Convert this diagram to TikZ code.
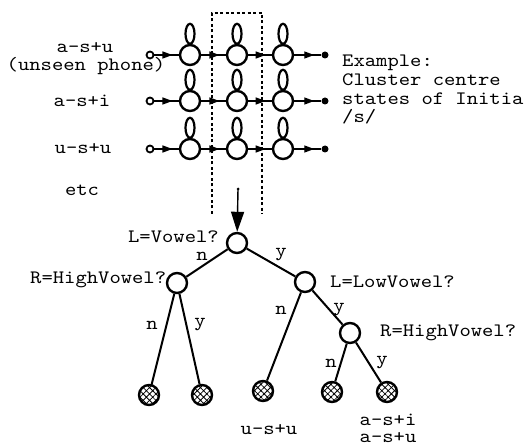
\documentclass[tikz,border=0pt]{standalone}
\usepackage{fontspec}
\setmonofont[FakeStretch=1.14]{lmmono10-regular.otf}
\usetikzlibrary{arrows.meta,decorations.markings,patterns.meta}

\begin{document}
\begin{tikzpicture}[x=1bp,y=-1bp,font=\ttfamily\fontsize{19}{19}\selectfont,
    state/.style={circle,draw,line width=2.4bp,fill=white,minimum size=20bp,inner sep=0pt},
    leaf/.style={state,pattern={Hatch[angle=45,distance=4.5bp,line width=0.8bp]}},
    startdot/.style={circle,draw,line width=1.8bp,fill=white,minimum size=7bp,inner sep=0pt},
    enddot/.style={circle,fill=black,minimum size=7bp,inner sep=0pt},
    selfloop/.style={line width=2.2bp},
    hmmarrow/.style={line width=1.4bp,postaction={decorate},
      decoration={markings,mark=at position 0.74 with {\arrow{Triangle[length=10bp,width=7bp]}}}},
    branch/.style={line width=2bp},
    lbl/.style={inner sep=0pt}]
  \useasboundingbox (0,0) rectangle (526,448);

  % HMMs of the triphones
  \node[lbl] (t1) at (85,48) {a-s+u};
  \node[lbl] (t1b) at (86,66) {(unseen phone)};
  \node[lbl] (t2) at (82,101) {a-s+i};
  \node[lbl] (t3) at (83,149) {u-s+u};
  \node[lbl] (t4) at (82,190) {etc};
  \foreach \r/\y in {1/55,2/101,3/149} {
    \node[startdot] (b\r) at (150,\y) {};
    \node[state] (s\r1) at (190,\y) {};
    \node[state] (s\r2) at (237,\y) {};
    \node[state] (s\r3) at (283,\y) {};
    \node[enddot] (e\r) at (325,\y) {};
    \foreach \k in {1,2,3}
      \draw[selfloop] (s\r\k.north) ++(0,-10) ellipse (4.5 and 10);
    \draw[hmmarrow] (b\r) -- (s\r1);
    \draw[hmmarrow] (s\r1) -- (s\r2);
    \draw[hmmarrow] (s\r2) -- (s\r3);
    \draw[hmmarrow] (s\r3) -- (e\r);
  }
  \draw[line width=1.4bp,dash pattern=on 3bp off 2.5bp] (212,214) |- (262,13) -- (262,214);

  \node[lbl,anchor=base west] (ex1) at (342,67) {Example:};
  \node[lbl,anchor=base west] (ex2) at (342,86) {Cluster centre};
  \node[lbl,anchor=base west] (ex3) at (342,105) {states of Initia};
  \node[lbl,anchor=base west] (ex4) at (342,123) {/s/};

  % decision tree
  \node[lbl,anchor=east] (q1) at (219,237) {L=Vowel?};
  \node[lbl,anchor=west] (q2) at (30,280) {R=HighVowel?};
  \node[lbl,anchor=west] (q3) at (330,282) {L=LowVowel?};
  \node[lbl,anchor=west] (q4) at (380,333) {R=HighVowel?};

  \node[state] (root) at (237,243) {};
  \node[state] (lv) at (177,283) {};
  \node[state] (llv) at (305,282) {};
  \node[state] (rhv) at (350,333) {};
  \node[leaf] (c1) at (149,395) {};
  \node[leaf] (c2) at (202,395) {};
  \node[leaf] (c3) at (263,391) {};
  \node[leaf] (c4) at (332,392) {};
  \node[leaf] (c5) at (387,392) {};

  \coordinate (pick) at (238,189);
  \fill (pick) circle (1.5);
  \draw[line width=1.4bp,-{Triangle[length=20bp,width=13bp]}] (pick) -- (root);

  \draw[branch] (root) -- (lv);
  \draw[branch] (root) -- (llv);
  \draw[branch] (lv) -- (c1);
  \draw[branch] (lv) -- (c2);
  \draw[branch] (llv) -- (c3);
  \draw[branch] (llv) -- (rhv);
  \draw[branch] (rhv) -- (c4);
  \draw[branch] (rhv) -- (c5);

  \node[lbl] (n1) at (202,256) {n};
  \node[lbl] (y1) at (281,255) {y};
  \node[lbl] (n2) at (152,325) {n};
  \node[lbl] (y2) at (200,325) {y};
  \node[lbl] (n3) at (281,310) {n};
  \node[lbl] (y3) at (339,310) {y};
  \node[lbl] (n4) at (331,363) {n};
  \node[lbl] (y4) at (382,363) {y};

  \node[lbl] (r1) at (269,430) {u-s+u};
  \node[lbl] (r2) at (388,420) {a-s+i};
  \node[lbl] (r3) at (388,438) {a-s+u};
\end{tikzpicture}
\end{document}
